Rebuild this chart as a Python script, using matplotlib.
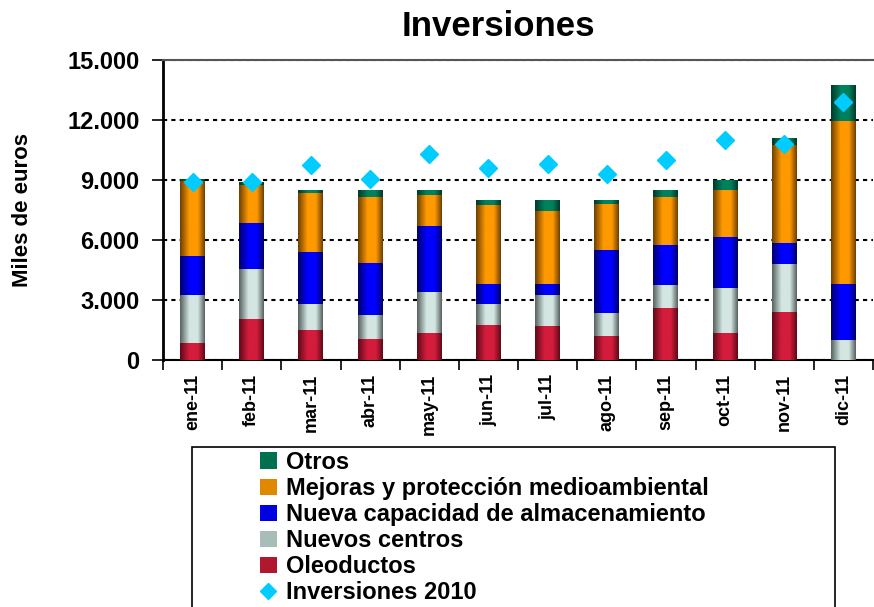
import numpy as np
import matplotlib
matplotlib.use("Agg")
import matplotlib.pyplot as plt
from matplotlib.colors import LinearSegmentedColormap
from matplotlib.patches import Patch, Rectangle
from matplotlib.lines import Line2D

plt.rcParams['font.family'] = ['Liberation Sans', 'DejaVu Sans']
plt.rcParams['font.weight'] = 'bold'

months = ['ene-11', 'feb-11', 'mar-11', 'abr-11', 'may-11', 'jun-11',
          'jul-11', 'ago-11', 'sep-11', 'oct-11', 'nov-11', 'dic-11']
oleoductos = [850, 2050, 1500, 1050, 1350, 1750, 1700, 1200, 2600, 1350, 2400, 0]
nuevos_centros = [2400, 2500, 1300, 1200, 2050, 1050, 1550, 1150, 1150, 2250, 2400, 1000]
nueva_capacidad = [1950, 2300, 2600, 2600, 3300, 1000, 550, 3150, 2000, 2550, 1050, 2800]
mejoras = [3750, 1900, 2970, 3300, 1550, 3950, 3650, 2300, 2400, 2350, 4900, 8150]
otros = [100, 150, 130, 350, 250, 250, 550, 200, 350, 500, 350, 1800]
inversiones_2010 = [8920, 8920, 9750, 9050, 10300, 9620, 9820, 9320, 10020, 11020, 10800, 12900]
yticks = [0, 3000, 6000, 9000, 12000, 15000]
ytick_labels = ['0', '3.000', '6.000', '9.000', '12.000', '15.000']

series = [
    ('Oleoductos', oleoductos, ('#5e0a18', '#d41c3c')),
    ('Nuevos centros', nuevos_centros, ('#56625f', '#d4e6e2')),
    ('Nueva capacidad de almacenamiento', nueva_capacidad, ('#00006a', '#0000ff')),
    ('Mejoras y protección medioambiental', mejoras, ('#6e4000', '#ff9900')),
    ('Otros', otros, ('#003a2a', '#00805c')),
]

fig = plt.figure(figsize=(8.74, 6.07), dpi=100)
ax = fig.add_axes([163/874, 1-360/607, (873-163)/874, 300/607])

x = np.arange(len(months))
width = 0.42
bottom = np.zeros(len(months))
gx = np.linspace(0, 1, 64)[None, :]
for name, vals, (dark, light) in series:
    cmap = LinearSegmentedColormap.from_list(name, [(0, dark), (0.38, light), (0.72, light), (1.0, dark)])
    vals = np.array(vals, dtype=float)
    for i in range(len(months)):
        if vals[i] <= 0:
            continue
        ax.imshow(gx, extent=[x[i]-width/2, x[i]+width/2, bottom[i], bottom[i]+vals[i]],
                  aspect='auto', cmap=cmap, vmin=0, vmax=1, zorder=3, interpolation='bilinear')
    bottom += vals

ax.plot(x, inversiones_2010, linestyle='none', marker='D', markersize=9,
        color='#00ccff', markeredgecolor='#00ccff', zorder=5)

ax.set_xlim(-0.5, len(months)-0.5)
ax.set_ylim(0, 15000)
ax.set_yticks(yticks)
ax.set_yticklabels(ytick_labels, fontsize=17, fontweight='bold')
ax.yaxis.grid(True, color='black', linestyle=(0, (2, 2)), linewidth=1.5, zorder=1)
ax.set_axisbelow(True)

ax.set_xticks(np.arange(-0.5, len(months), 1.0))
ax.set_xticklabels([])
ax.set_xticks(x, minor=True)
ax.set_xticklabels(months, minor=True, rotation=90, fontsize=13, fontweight='bold')
ax.tick_params(axis='x', which='major', length=7, width=1.2, direction='out')
ax.tick_params(axis='x', which='minor', length=0, pad=10)
ax.tick_params(axis='y', length=8, width=1.2, direction='out', pad=9)

ax.spines['left'].set_linewidth(2)
ax.spines['bottom'].set_linewidth(1.5)
ax.spines['top'].set_color('#555555')
ax.spines['top'].set_linewidth(1.5)
ax.spines['right'].set_visible(False)

ax.set_ylabel('Miles de euros', fontsize=16, fontweight='bold')
ax.yaxis.set_label_coords((33-163)/710, 0.5)
fig.text(498/874, 1-27/607, 'Inversiones', fontsize=25, fontweight='bold',
         ha='center', va='center')

# legend frame
fig.patches.append(Rectangle((192/874, -0.02), (835-192)/874, (1-447/607)+0.02,
                             transform=fig.transFigure, fill=False,
                             edgecolor='black', linewidth=1.2))
handles = [
    Patch(facecolor='#00704f', edgecolor='none', label='Otros'),
    Patch(facecolor='#e08800', edgecolor='none', label='Mejoras y protección medioambiental'),
    Patch(facecolor='#0000e0', edgecolor='none', label='Nueva capacidad de almacenamiento'),
    Patch(facecolor='#a8bcb8', edgecolor='none', label='Nuevos centros'),
    Patch(facecolor='#b0182f', edgecolor='none', label='Oleoductos'),
    Line2D([], [], linestyle='none', marker='D', markersize=8, color='#00ccff', label='Inversiones 2010'),
]
fig.legend(handles=handles, loc='upper left', bbox_to_anchor=(260/874, 1-451/607),
           frameon=False, prop={'weight': 'bold', 'size': 17},
           handlelength=0.7, handleheight=0.7, handletextpad=0.4,
           labelspacing=0.13, borderaxespad=0, borderpad=0)

fig.savefig('out.png', dpi=100)
